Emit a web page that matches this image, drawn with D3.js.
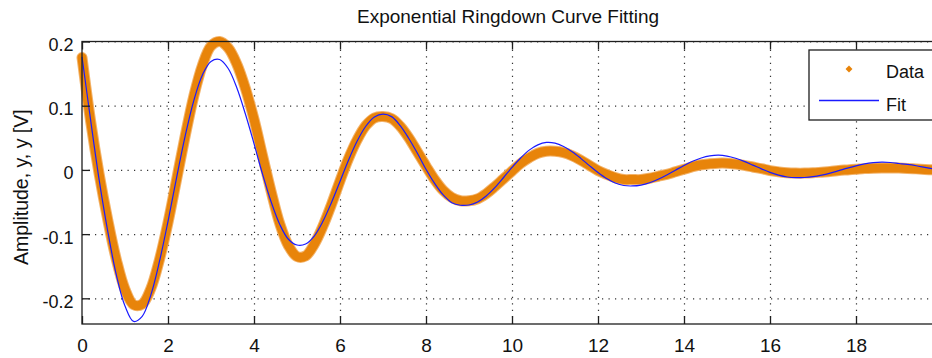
<!DOCTYPE html>
<html>
<head>
<meta charset="utf-8">
<script src="https://cdn.jsdelivr.net/npm/d3@7"></script>
<style>
  body { margin: 0; background: #ffffff; }
  text { font-family: "Liberation Sans", Arial, Helvetica, sans-serif; fill: #111; }
</style>
</head>
<body>
<svg id="chart" width="932" height="358"></svg>
<script>
// sample times [s]
const timeValues = [
  0, 0.2, 0.4, 0.6, 0.8, 1, 1.2, 1.4, 1.6, 1.8, 2, 2.2, 2.4, 2.6, 2.8, 3, 3.2, 3.4, 3.6, 3.8,
  4, 4.2, 4.4, 4.6, 4.8, 5, 5.2, 5.4, 5.6, 5.8, 6, 6.2, 6.4, 6.6, 6.8, 7, 7.2, 7.4, 7.6, 7.8,
  8, 8.2, 8.4, 8.6, 8.8, 9, 9.2, 9.4, 9.6, 9.8, 10, 10.2, 10.4, 10.6, 10.8, 11, 11.2, 11.4, 11.6, 11.8,
  12, 12.2, 12.4, 12.6, 12.8, 13, 13.2, 13.4, 13.6, 13.8, 14, 14.2, 14.4, 14.6, 14.8, 15, 15.2, 15.4, 15.6, 15.8,
  16, 16.2, 16.4, 16.6, 16.8, 17, 17.2, 17.4, 17.6, 17.8, 18, 18.2, 18.4, 18.6, 18.8, 19, 19.2, 19.4, 19.6, 19.8, 20
];
// measured amplitude y [V]
const dataAmp = [
  0.175, 0.076, -0.007, -0.078, -0.140, -0.186, -0.210, -0.209, -0.185, -0.140,
  -0.082, -0.015, 0.053, 0.115, 0.163, 0.193, 0.200, 0.190, 0.165, 0.127,
  0.079, 0.022, -0.034, -0.084, -0.118, -0.135, -0.134, -0.116, -0.088, -0.054,
  -0.017, 0.018, 0.047, 0.069, 0.081, 0.083, 0.080, 0.068, 0.050, 0.028,
  0.006, -0.015, -0.032, -0.043, -0.048, -0.048, -0.045, -0.037, -0.026, -0.014,
  -0.002, 0.010, 0.019, 0.026, 0.029, 0.029, 0.027, 0.022, 0.015, 0.007,
  -0.001, -0.007, -0.012, -0.015, -0.015, -0.015, -0.013, -0.010, -0.007, -0.003,
  0.001, 0.005, 0.008, 0.0095, 0.0105, 0.0104, 0.009, 0.007, 0.0045, 0.002,
  -0.001, -0.003, -0.0045, -0.005, -0.005, -0.0045, -0.0035, -0.0025, -0.001, 0.000,
  0.001, 0.002, 0.0026, 0.003, 0.003, 0.0028, 0.0023, 0.0016, 0.0008, 0.000, -0.0008
];
// fitted amplitude y-hat [V]
const fitAmp = [
  0.176, 0.078, -0.016, -0.096, -0.164, -0.212, -0.236, -0.228, -0.195, -0.143,
  -0.080, -0.012, 0.053, 0.108, 0.148, 0.169, 0.172, 0.158, 0.128, 0.087,
  0.041, -0.007, -0.050, -0.085, -0.108, -0.117, -0.1155, -0.103, -0.0805, -0.051,
  -0.018, 0.0155, 0.045, 0.068, 0.0825, 0.087, 0.083, 0.069, 0.049, 0.026,
  0.001, -0.021, -0.039, -0.051, -0.055, -0.0547, -0.050, -0.0406, -0.0276, -0.0122,
  0.0038, 0.0185, 0.0308, 0.039, 0.0428, 0.0417, 0.0365, 0.0283, 0.018, 0.0067,
  -0.0041, -0.0135, -0.0204, -0.0243, -0.025, -0.0236, -0.020, -0.0145, -0.0078, -0.0004,
  0.0069, 0.0135, 0.0186, 0.0219, 0.023, 0.0216, 0.0182, 0.0133, 0.0075, 0.0016,
  -0.0038, -0.0081, -0.011, -0.0121, -0.0118, -0.0106, -0.0082, -0.005, -0.0012, 0.0027,
  0.0063, 0.0093, 0.0112, 0.012, 0.0115, 0.010, 0.0085, 0.0065, 0.004, 0.0015, -0.001
];
const xTicks = [0, 2, 4, 6, 8, 10, 12, 14, 16, 18];
const yTicks = [-0.2, -0.1, 0, 0.1, 0.2];
const legendItems = ["Data", "Fit"];

const colorData = "#e8840a";
const colorDataEdge = "#f3b36a";
const colorFit = "#1a1aff";
const colorAxis = "#1e1e1e";

const svg = d3.select("#chart");
const plot = { left: 82, right: 942, top: 41.5, bottom: 324 };
const plotH = plot.bottom - plot.top;
const plotW = plot.right - plot.left;

const x = d3.scaleLinear().domain([0, 20]).range([plot.left, plot.right]);
const y = d3.scaleLinear().domain([-0.24, 0.2]).range([plot.bottom, plot.top]);

// dotted grid
const gGrid = svg.append("g").attr("class", "grid");
gGrid.append("g")
  .attr("transform", "translate(0," + plot.bottom + ")")
  .call(d3.axisBottom(x).tickValues(xTicks.filter(d => d > 0)).tickSize(-plotH).tickFormat(""))
  .call(g => g.select(".domain").remove())
  .selectAll("line")
  .attr("stroke", "#333")
  .attr("stroke-width", 1.2)
  .attr("stroke-dasharray", "1.2,5.3");
gGrid.append("g")
  .attr("transform", "translate(" + plot.left + ",0)")
  .call(d3.axisLeft(y).tickValues(yTicks).tickSize(-plotW).tickFormat(""))
  .call(g => g.select(".domain").remove())
  .selectAll("line")
  .attr("stroke", "#333")
  .attr("stroke-width", 1.2)
  .attr("stroke-dasharray", "1.2,5.3");

// series
const dataPts = timeValues.map((t, i) => [t, dataAmp[i]]);
const fitPts = timeValues.map((t, i) => [t, fitAmp[i]]);
const line = d3.line()
  .x(d => x(d[0]))
  .y(d => y(d[1]))
  .curve(d3.curveCatmullRom);

const gSeries = svg.append("g").attr("class", "series");
gSeries.append("path")
  .datum(dataPts)
  .attr("d", line)
  .attr("fill", "none")
  .attr("stroke", colorDataEdge)
  .attr("stroke-width", 11)
  .attr("stroke-linejoin", "round")
  .attr("stroke-linecap", "round");
gSeries.append("path")
  .datum(dataPts)
  .attr("d", line)
  .attr("fill", "none")
  .attr("stroke", colorData)
  .attr("stroke-width", 9)
  .attr("stroke-linejoin", "round")
  .attr("stroke-linecap", "round");
gSeries.append("path")
  .datum(fitPts)
  .attr("d", line)
  .attr("fill", "none")
  .attr("stroke", colorFit)
  .attr("stroke-width", 1.2);

// axes box with inward ticks
const gAxes = svg.append("g").attr("class", "axes");
gAxes.append("rect")
  .attr("x", plot.left)
  .attr("y", plot.top)
  .attr("width", plotW)
  .attr("height", plotH)
  .attr("fill", "none")
  .attr("stroke", colorAxis)
  .attr("stroke-width", 1.3);

const xAxis = gAxes.append("g")
  .attr("transform", "translate(0," + plot.bottom + ")")
  .call(d3.axisBottom(x).tickValues(xTicks).tickSizeInner(-8).tickSizeOuter(0).tickFormat(d => String(d)));
xAxis.select(".domain").remove();
xAxis.selectAll("line").attr("stroke", colorAxis).attr("stroke-width", 1.3);
xAxis.selectAll("text")
  .attr("y", 27.5)
  .attr("dy", null)
  .style("font-size", "19px")
  .style("fill", "#111");

const xAxisTop = gAxes.append("g")
  .attr("transform", "translate(0," + plot.top + ")")
  .call(d3.axisTop(x).tickValues(xTicks).tickSizeInner(-8).tickSizeOuter(0).tickFormat(""));
xAxisTop.select(".domain").remove();
xAxisTop.selectAll("line").attr("stroke", colorAxis).attr("stroke-width", 1.3);

const yAxis = gAxes.append("g")
  .attr("transform", "translate(" + plot.left + ",0)")
  .call(d3.axisLeft(y).tickValues(yTicks).tickSizeInner(-8).tickSizeOuter(0).tickFormat(d => String(d)));
yAxis.select(".domain").remove();
yAxis.selectAll("line").attr("stroke", colorAxis).attr("stroke-width", 1.3);
yAxis.selectAll("text")
  .attr("x", -8.5)
  .attr("dy", null)
  .attr("y", 9)
  .style("font-size", "18px")
  .style("fill", "#111");

// title and y label
svg.append("text")
  .attr("x", 508)
  .attr("y", 23)
  .attr("text-anchor", "middle")
  .style("font-size", "19px")
  .text("Exponential Ringdown Curve Fitting");

svg.append("text")
  .attr("transform", "translate(28,265) rotate(-90)")
  .attr("text-anchor", "start")
  .style("font-size", "19.5px")
  .text("Amplitude, y, y [V]");

// legend
const gLegend = svg.append("g").attr("class", "legend").attr("transform", "translate(809,50)");
gLegend.append("rect")
  .attr("width", 150)
  .attr("height", 70)
  .attr("fill", "#ffffff")
  .attr("stroke", colorAxis)
  .attr("stroke-width", 1.3);
gLegend.append("path")
  .attr("transform", "translate(40,19) rotate(45)")
  .attr("d", d3.symbol().type(d3.symbolSquare).size(24)())
  .attr("fill", colorData);
gLegend.append("line")
  .attr("x1", 10).attr("x2", 70)
  .attr("y1", 50.5).attr("y2", 50.5)
  .attr("stroke", colorFit)
  .attr("stroke-width", 1.4);
gLegend.selectAll("text.item")
  .data(legendItems)
  .join("text")
  .attr("class", "item")
  .attr("x", 77)
  .attr("y", (d, i) => 27.5 + i * 33.5)
  .style("font-size", "18px")
  .text(d => d);
</script>
</body>
</html>
